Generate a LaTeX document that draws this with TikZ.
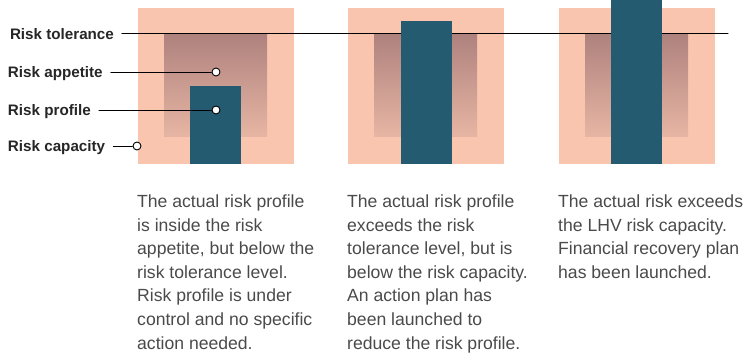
\documentclass[tikz,border=0pt]{standalone}
\usepackage{fontspec}
\setmainfont{Liberation Sans}
\definecolor{capacity}{HTML}{FAC5AF}
\definecolor{appetop}{HTML}{AE827E}
\definecolor{appebot}{HTML}{E7B5A3}
\definecolor{profile}{HTML}{245B70}
\definecolor{notegray}{HTML}{4A4A4A}
\begin{document}
\begin{tikzpicture}[x=1pt,y=-1pt,line cap=round,
    lbl/.style={font=\fontsize{15.2}{17}\selectfont\bfseries,text=black!85,anchor=west,
        inner sep=0pt,outer xsep=8pt,text height=10.9pt,text depth=0pt},
    dot/.style={circle,draw,fill=white,line width=0.9pt,inner sep=0pt,minimum size=8pt},
    note/.style={font=\fontsize{17.6}{23.6}\selectfont,text=notegray,anchor=north west,
        inner sep=0pt,align=left}]
    \useasboundingbox (0,0) rectangle (748,358);
    % capacity and appetite boxes
    \foreach \x in {138,348,559}{
        \fill[capacity] (\x,8) rectangle ++(156,156);
        \fill[top color=appetop,bottom color=appebot] (\x+26,34) rectangle ++(103,103);
    }
    % labels on the left
    \node[lbl] (tol) at (2,34) {Risk tolerance};
    \node[lbl] (app) at (0,72) {Risk appetite};
    \node[lbl] (prof) at (0,110) {Risk profile};
    \node[lbl] (cap) at (0,146) {Risk capacity};
    \coordinate (tolend) at (728,34);
    \draw[line width=1pt] (tol) -- (tolend);
    % actual risk bars
    \foreach \x/\t in {190/86,401/21,611/0}
        \fill[profile] (\x,\t) rectangle (\x+51,164);
    \node[dot] (appdot) at (216,72) {};
    \node[dot] (profdot) at (216,110) {};
    \node[dot] (capdot) at (137,146) {};
    \draw (app) -- (appdot);
    \draw (prof) -- (profdot);
    \draw (cap) -- (capdot);
    % notes under the panels
    \node[note] (note1) at (137,194.5) {The actual risk profile\\is inside the risk\\appetite, but below the\\risk tolerance level.\\Risk profile is under\\control and no specific\\action needed.};
    \node[note] (note2) at (347,194.5) {The actual risk profile\\exceeds the risk\\tolerance level, but is\\below the risk capacity.\\An action plan has\\been launched to\\reduce the risk profile.};
    \node[note] (note3) at (558,194.5) {The actual risk exceeds\\the LHV risk capacity.\\Financial recovery plan\\has been launched.};
\end{tikzpicture}
\end{document}
